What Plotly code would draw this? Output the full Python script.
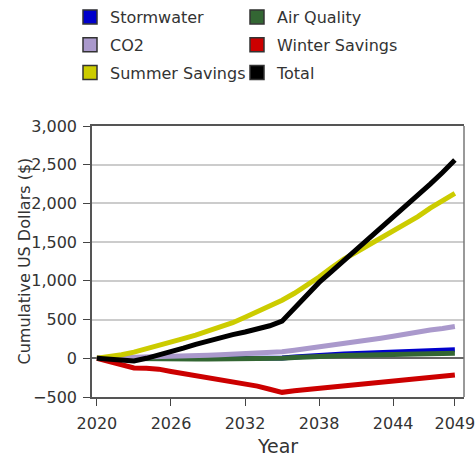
import plotly.graph_objects as go

years = list(range(2020, 2050))

stormwater = [0, 0, -5, -8, -10, -10, -10, -10, -10, -8, -5, -5, -3, 0, 0,
              5, 15, 30, 40, 45, 55, 60, 65, 75, 85, 90, 90, 100, 110, 110]
air_quality = [0, -3, -5, -8, -10, -10, -10, -10, -10, -10, -10, -8, -5, -5, -3,
               0, 10, 20, 25, 30, 35, 40, 45, 50, 55, 55, 60, 60, 65, 65]
co2 = [0, 3, 5, 8, 10, 15, 20, 25, 30, 38, 45, 50, 55, 60, 70,
       85, 105, 125, 150, 175, 200, 220, 240, 260, 285, 315, 340, 365, 385, 410]
winter = [0, -40, -90, -125, -130, -140, -170, -195, -220, -245, -270, -295, -325, -360, -400,
          -440, -420, -405, -385, -365, -350, -340, -325, -305, -295, -280, -260, -240, -235, -215]
summer = [0, 15, 45, 80, 120, 165, 210, 255, 300, 350, 400, 460, 530, 600, 680,
          750, 840, 940, 1050, 1170, 1280, 1370, 1460, 1550, 1650, 1740, 1830, 1940, 2040, 2130]
total = [0, -15, -30, -35, 0, 40, 80, 130, 180, 225, 270, 305, 340, 380, 420,
         480, 650, 820, 980, 1120, 1260, 1390, 1530, 1680, 1820, 1950, 2100, 2250, 2400, 2560]

series = [
    ("Stormwater", stormwater, "#0000cc", "legend"),
    ("Air Quality", air_quality, "#336633", "legend2"),
    ("CO2", co2, "#aa99cc", "legend"),
    ("Winter Savings", winter, "#cc0000", "legend2"),
    ("Summer Savings", summer, "#cccc00", "legend"),
    ("Total", total, "#000000", "legend2"),
]

x_ticks = [2020, 2026, 2032, 2038, 2044, 2049]
y_ticks = [-500, 0, 500, 1000, 1500, 2000, 2500, 3000]

FONT = "DejaVu Sans"
TEXT = "#333333"
W, H = 476, 457

fig = go.Figure()

for name, vals, color, leg in series:
    fig.add_trace(go.Scatter(
        x=years, y=vals, mode="lines", name=name,
        line=dict(color=color, width=5),
        legendgroup=name, showlegend=False,
    ))

# square legend swatches
for name, vals, color, leg in series:
    fig.add_trace(go.Scatter(
        x=[None], y=[None], mode="markers", name=name,
        marker=dict(symbol="square", size=14, color=color,
                    line=dict(color="#333333", width=1.5)),
        legendgroup=name, legend=leg,
    ))

leg_style = dict(
    orientation="v", xref="container", yref="container",
    xanchor="left", yanchor="top", traceorder="grouped",
    tracegroupgap=4, bgcolor="rgba(0,0,0,0)",
    font=dict(family=FONT, size=16, color=TEXT),
)

# right-hand frame edge
fig.add_shape(type="line", xref="paper", yref="paper", x0=1, x1=1, y0=0, y1=1,
              line=dict(color="#777777", width=1.5), layer="above")

# y title as annotation (axis title kept landing on the right side)
fig.add_annotation(text="Cumulative US Dollars ($)", xref="paper", yref="paper",
                   x=-68 / 372, y=0.5, textangle=-90, showarrow=False,
                   xanchor="center", yanchor="middle",
                   font=dict(family=FONT, size=16, color=TEXT))

fig.update_layout(
    width=W, height=H,
    margin=dict(l=92, r=12, t=126, b=60, autoexpand=False),
    paper_bgcolor="white", plot_bgcolor="white",
    font=dict(family=FONT, size=16, color=TEXT),
    legend=dict(x=70 / W, y=1, **leg_style),
    legend2=dict(x=237 / W, y=1, **leg_style),
    xaxis=dict(
        range=[2019.6, 2049.74], tickvals=x_ticks,
        ticks="outside", ticklen=7, tickcolor="#444444", ticklabelstandoff=4,
        ticklabeloverflow="allow",
        showgrid=False, zeroline=False,
        showline=True, linecolor="#555555", linewidth=1.5, mirror=True,
        title=dict(text="Year"),
    ),
    yaxis=dict(
        range=[-500, 3000], tickvals=y_ticks, tickformat=",d",
        ticks="outside", ticklen=7, tickcolor="#444444", ticklabelstandoff=3,
        showgrid=True, gridcolor="#cccccc", gridwidth=1.5,
        zeroline=True, zerolinecolor="#666666", zerolinewidth=1.5,
        showline=True, linecolor="#555555", linewidth=1.5,
    ),
)

# drop the default 8px page margin so the figure fills the window
fig.write_html("out.html", config={"displayModeBar": False},
               post_script="document.body.style.margin = '0';")
